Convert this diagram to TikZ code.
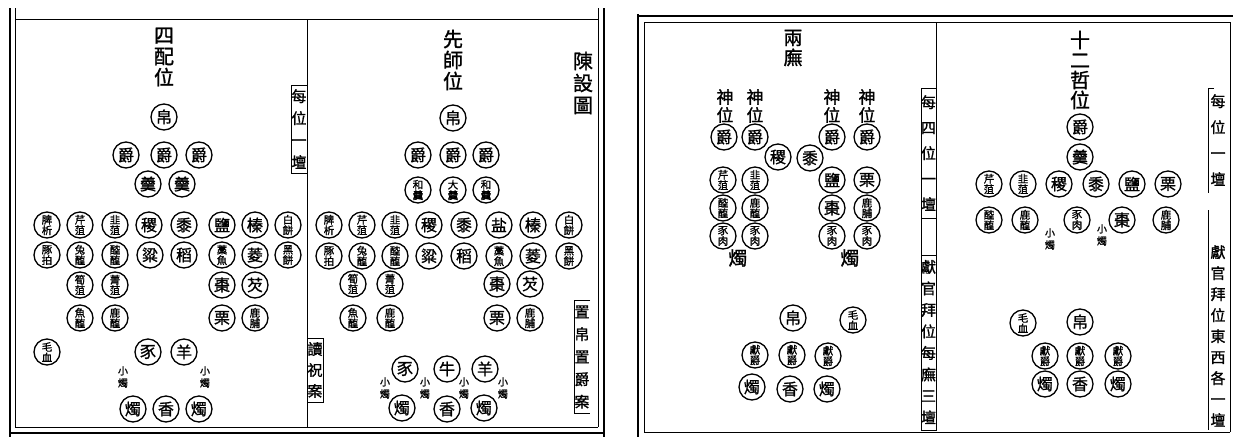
\documentclass[tikz,border=0pt]{standalone}
\usepackage{fontspec}
\newfontfamily\cjk[FakeBold=1.2]{Noto Sans CJK TC}
\tikzset{
  thk/.style={line width=2.6pt},
  thn/.style={line width=0.9pt},
  dish/.style={circle, draw, line width=1.3pt, minimum size=26pt, inner sep=0pt, font=\cjk\fontsize{16}{16}\selectfont},
  two/.style={align=center, font=\cjk\fontsize{10.5}{10.5}\selectfont},
  ttl/.style={align=center, inner sep=0pt, font=\cjk\fontsize{20}{21}\selectfont},
  shenwei/.style={align=center, inner sep=0pt, font=\cjk\fontsize{17}{18}\selectfont},
  smlab/.style={align=center, inner sep=0pt, font=\cjk\fontsize{10}{12}\selectfont},
  zhu/.style={inner sep=0pt, font=\cjk\fontsize{19}{19}\selectfont},
}
\newcommand\vfont[1]{\cjk\fontsize{15}{#1}\selectfont}
\begin{document}
\begin{tikzpicture}[x=1pt,y=-1pt]
\useasboundingbox (0,0) rectangle (1233,437);
\fill[white] (0,0) rectangle (1233,437);
% ---------- left page frame ----------
\draw[thk] (10,8) -- (10,437);
\draw[thn] (15,8) -- (15,427);
\draw[thn] (15,19) -- (598,19);
\draw[thn] (15,427) -- (598,427);
\draw[thk] (9,433) -- (605,433);
\draw[thn] (598,8) -- (598,427);
\draw[thk] (604,8) -- (604,437);
\draw[thn] (307,20) -- (307,427);
% ---------- right page frame ----------
\draw[thk] (638,14) -- (638,437);
\draw[thk] (637,16) -- (1233,16);
\draw[thn] (644,22) -- (1230,22);
\draw[thn] (644,22) -- (644,432);
\draw[thn] (644,432) -- (1230,432);
\draw[thn] (1230,22) -- (1230,432);
% ---------- left page labels ----------
\node[align=center, inner sep=0pt, font=\vfont{22}] (lab1) at (299,129) {每\\位\\一\\壇};
\draw[thn] (291,85) rectangle (307,173);
\node[align=center, inner sep=0pt, font=\vfont{21}] (lab2) at (315,370) {讀\\祝\\案};
\draw[thn] (307,338) rectangle (323,402);
\node[align=center, inner sep=0pt, font=\vfont{22.5}] (lab3) at (582,357) {置\\帛\\置\\爵\\案};
\draw[thn] (590,300) -- (574,300) -- (574,413) -- (590,413);
\node[align=center, inner sep=0pt, font=\cjk\fontsize{20}{22}\selectfont] (lab4) at (583,83) {陳\\設\\圖};
% ---------- 四配位 ----------
\node[ttl] (t1) at (164,57) {四\\配\\位};
\node[dish] (aBo) at (164,117) {帛};
\node[dish] (aJ1) at (126,155) {爵};
\node[dish] (aJ2) at (164,155) {爵};
\node[dish] (aJ3) at (199,155) {爵};
\node[dish] (aG1) at (148,184) {羹};
\node[dish] (aG2) at (182,184) {羹};
\node[dish,two] (aA1) at (47,225) {脾\\析};
\node[dish,two] (aA2) at (80,225) {芹\\菹};
\node[dish,two] (aA3) at (115,225) {韭\\菹};
\node[dish] (aA4) at (149,225) {稷};
\node[dish] (aA5) at (184,225) {黍};
\node[dish] (aA6) at (222,225) {鹽};
\node[dish] (aA7) at (255,225) {榛};
\node[dish,two] (aA8) at (288,225) {白\\餅};
\node[dish,two] (aB1) at (47,255) {豚\\拍};
\node[dish,two] (aB2) at (80,255) {兔\\醢};
\node[dish,two] (aB3) at (115,255) {醓\\醢};
\node[dish] (aB4) at (150,255) {粱};
\node[dish] (aB5) at (184,255) {稻};
\node[dish,two] (aB6) at (222,255) {藁\\魚};
\node[dish] (aB7) at (255,255) {菱};
\node[dish,two] (aB8) at (288,255) {黑\\餅};
\node[dish,two] (aC1) at (80,285) {筍\\菹};
\node[dish,two] (aC2) at (115,285) {菁\\菹};
\node[dish] (aC3) at (222,285) {棗};
\node[dish] (aC4) at (255,285) {芡};
\node[dish,two] (aD1) at (80,318) {魚\\醢};
\node[dish,two] (aD2) at (115,318) {鹿\\醢};
\node[dish] (aD3) at (222,318) {栗};
\node[dish,two] (aD4) at (255,318) {鹿\\脯};
\node[dish,two] (aMX) at (47,352) {毛\\血};
\node[dish] (aE1) at (148,352) {豕};
\node[dish] (aE2) at (184,352) {羊};
\node[smlab] (aS1) at (123,377) {小\\燭};
\node[smlab] (aS2) at (205,377) {小\\燭};
\node[dish] (aF1) at (133,409) {燭};
\node[dish] (aF2) at (166,409) {香};
\node[dish] (aF3) at (199,409) {燭};
% ---------- 先師位 ----------
\node[ttl] (t2) at (453,60) {先\\師\\位};
\node[dish] (bBo) at (453,118) {帛};
\node[dish] (bJ1) at (418,155) {爵};
\node[dish] (bJ2) at (453,155) {爵};
\node[dish] (bJ3) at (486,155) {爵};
\node[dish,two] (bG1) at (418,190) {和\\羹};
\node[dish,two] (bG2) at (453,190) {大\\羹};
\node[dish,two] (bG3) at (486,190) {和\\羹};
\node[dish,two] (bA1) at (329,225) {脾\\析};
\node[dish,two] (bA2) at (362,225) {芹\\菹};
\node[dish,two] (bA3) at (395,225) {韭\\菹};
\node[dish] (bA4) at (429,225) {稷};
\node[dish] (bA5) at (464,225) {黍};
\node[dish] (bA6) at (499,225) {盐};
\node[dish] (bA7) at (533,225) {榛};
\node[dish,two] (bA8) at (569,225) {白\\餅};
\node[dish,two] (bB1) at (329,256) {豚\\拍};
\node[dish,two] (bB2) at (362,256) {兔\\醢};
\node[dish,two] (bB3) at (395,256) {醓\\醢};
\node[dish] (bB4) at (429,256) {粱};
\node[dish] (bB5) at (464,256) {稻};
\node[dish,two] (bB6) at (499,256) {藁\\魚};
\node[dish] (bB7) at (533,256) {菱};
\node[dish,two] (bB8) at (569,256) {黑\\餅};
\node[dish,two] (bC1) at (353,284) {筍\\菹};
\node[dish,two] (bC2) at (390,284) {菁\\菹};
\node[dish] (bC3) at (497,284) {棗};
\node[dish] (bC4) at (530,284) {芡};
\node[dish,two] (bD1) at (353,318) {魚\\醢};
\node[dish,two] (bD2) at (390,318) {鹿\\醢};
\node[dish] (bD3) at (497,318) {栗};
\node[dish,two] (bD4) at (530,318) {鹿\\脯};
\node[dish] (bE1) at (405,369) {豕};
\node[dish] (bE2) at (447,369) {牛};
\node[dish] (bE3) at (485,369) {羊};
\node[smlab] (bS1) at (385,388) {小\\燭};
\node[smlab] (bS2) at (425,388) {小\\燭};
\node[smlab] (bS3) at (464,388) {小\\燭};
\node[smlab] (bS4) at (503,388) {小\\燭};
\node[dish] (bF1) at (402,408) {燭};
\node[dish] (bF2) at (447,409) {香};
\node[dish] (bF3) at (484,408) {燭};
% ---------- right page labels ----------
\draw[thn] (936,22) -- (936,88);
\draw[thn] (921,88) rectangle (936,430);
\draw[thn] (921,218) -- (936,218);
\draw[thn] (921,255) -- (936,255);
\node[align=center, inner sep=0pt, font=\vfont{25.5}] (lab5) at (928.5,153) {每\\四\\位\\一\\壇};
\node[align=center, inner sep=0pt, font=\vfont{21.5}] (lab6) at (928.5,342) {獻\\官\\拜\\位\\每\\廡\\三\\壇};
\draw[thn] (1214,88) -- (1208,88) -- (1208,193);
\draw[thn] (1208,210) -- (1208,430);
\node[align=center, inner sep=0pt, font=\vfont{26}] (lab7) at (1218,140) {每\\位\\一\\壇};
\node[align=center, inner sep=0pt, font=\vfont{21}] (lab8) at (1218,336) {獻\\官\\拜\\位\\東\\西\\各\\一\\壇};
% ---------- 兩廡 ----------
\node[align=center, inner sep=0pt, font=\cjk\fontsize{19}{20}\selectfont] (t3) at (793,48) {兩\\廡};
\node[shenwei] (sw1) at (725,106) {神\\位};
\node[shenwei] (sw2) at (755,106) {神\\位};
\node[shenwei] (sw3) at (832,106) {神\\位};
\node[shenwei] (sw4) at (867,106) {神\\位};
\node[dish] (cJ1) at (724,137) {爵};
\node[dish] (cJ2) at (755,137) {爵};
\node[dish] (cJ3) at (832,137) {爵};
\node[dish] (cJ4) at (867,137) {爵};
\node[dish] (cJi) at (778,157) {稷};
\node[dish] (cSh) at (810,158) {黍};
\node[dish,two] (cA1) at (723,180) {芹\\菹};
\node[dish,two] (cA2) at (755,180) {韭\\菹};
\node[dish] (cA3) at (832,180) {鹽};
\node[dish] (cA4) at (867,180) {栗};
\node[dish,two] (cB1) at (723,208) {醓\\醢};
\node[dish,two] (cB2) at (755,208) {鹿\\醢};
\node[dish] (cB3) at (832,208) {棗};
\node[dish,two] (cB4) at (867,208) {鹿\\脯};
\node[dish,two] (cC1) at (723,236) {豕\\肉};
\node[dish,two] (cC2) at (755,236) {豕\\肉};
\node[dish,two] (cC3) at (832,236) {豕\\肉};
\node[dish,two] (cC4) at (867,236) {豕\\肉};
\node[zhu] (cZ1) at (738,258) {燭};
\node[zhu] (cZ2) at (850,258) {燭};
\node[dish] (cBo) at (793,318) {帛};
\node[dish,two] (cMX) at (853,320) {毛\\血};
\node[dish,two] (cX1) at (755,355) {獻\\爵};
\node[dish,two] (cX2) at (792,355) {獻\\爵};
\node[dish,two] (cX3) at (828,356) {獻\\爵};
\node[dish] (cF1) at (752,387) {燭};
\node[dish] (cF2) at (790,389) {香};
\node[dish] (cF3) at (827,389) {燭};
% ---------- 十二哲位 ----------
\node[ttl, font=\cjk\fontsize{20}{20}\selectfont] (t4) at (1080,70) {十\\二\\哲\\位};
\node[dish] (dJ) at (1080,127) {爵};
\node[dish] (dG) at (1080,157) {羹};
\node[dish,two] (dA1) at (989,184) {芹\\菹};
\node[dish,two] (dA2) at (1023,184) {韭\\菹};
\node[dish] (dA3) at (1059,184) {稷};
\node[dish] (dA4) at (1096,184) {黍};
\node[dish] (dA5) at (1132,184) {鹽};
\node[dish] (dA6) at (1168,184) {栗};
\node[dish,two] (dB1) at (989,220) {醓\\醢};
\node[dish,two] (dB2) at (1025,220) {鹿\\醢};
\node[dish,two] (dB3) at (1077,220) {豕\\肉};
\node[dish] (dB4) at (1122,220) {棗};
\node[dish,two] (dB5) at (1166,220) {鹿\\脯};
\node[smlab] (dS1) at (1050,239) {小\\燭};
\node[smlab] (dS2) at (1102,235) {小\\燭};
\node[dish,two] (dMX) at (1023,323) {毛\\血};
\node[dish] (dBo) at (1080,322) {帛};
\node[dish,two] (dX1) at (1045,356) {獻\\爵};
\node[dish,two] (dX2) at (1080,356) {獻\\爵};
\node[dish,two] (dX3) at (1118,356) {獻\\爵};
\node[dish] (dF1) at (1045,384) {燭};
\node[dish] (dF2) at (1080,384) {香};
\node[dish] (dF3) at (1118,384) {燭};
\end{tikzpicture}
\end{document}
